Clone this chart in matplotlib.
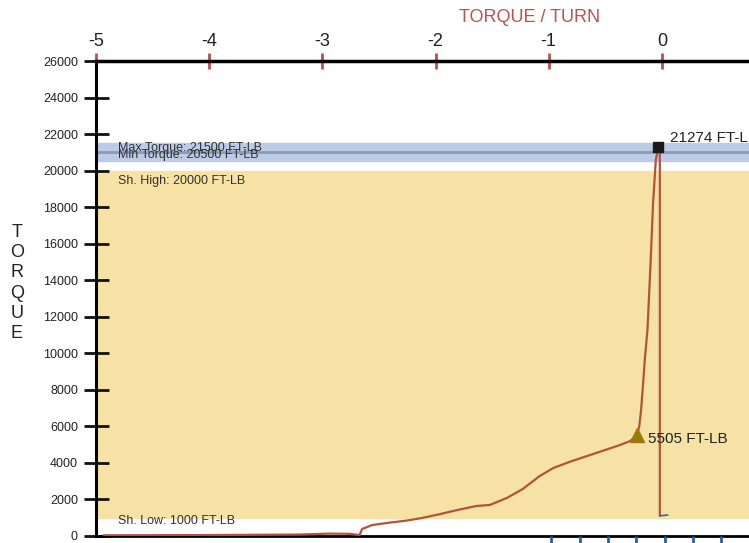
import matplotlib
matplotlib.use("Agg")
import matplotlib.pyplot as plt

plt.rcParams['font.family'] = ['Liberation Sans', 'DejaVu Sans']

# torque vs turn curve
turns = [-4.93, -4.09, -3.20, -2.94, -2.76, -2.67, -2.65, -2.56, -2.41, -2.26,
         -2.12, -1.96, -1.81, -1.64, -1.52, -1.37, -1.23, -1.08, -0.96, -0.81,
         -0.66, -0.52, -0.37, -0.28, -0.22, -0.20, -0.185, -0.171, -0.150, -0.127,
         -0.100, -0.077, -0.053, -0.030, -0.018, -0.018]
torque = [40, 50, 80, 130, 120, 50, 380, 600, 730, 840,
          985, 1200, 1420, 1640, 1700, 2080, 2570, 3280, 3720, 4070,
          4380, 4670, 4980, 5200, 5505, 6000, 6800, 7900, 9700, 11300,
          14900, 18300, 20600, 21274, 21150, 1150]

blue_turns = [-0.018, 0.05]
blue_torque = [1100, 1150]

shoulder_low, shoulder_high = 1000, 20000
min_torque, max_torque = 20500, 21500
peak_turn, peak_val = -0.030, 21274
shoulder_turn, shoulder_val = -0.22, 5505

y_ticks = list(range(0, 26001, 2000))
x_ticks = [-5, -4, -3, -2, -1, 0]
bottom_ticks = [-0.976, -0.726, -0.476, -0.226, 0.024, 0.274, 0.524]

fig = plt.figure(figsize=(7.49, 5.43), dpi=100)
ax = fig.add_axes([96 / 749, 7 / 543, 1 - 96 / 749, 475 / 543])

# bands
ax.axhspan(shoulder_low, shoulder_high, color='#f6e2a4', zorder=0)
ax.axhspan(min_torque, max_torque, color='#bccbe6', zorder=0)
ax.axhline((min_torque + max_torque) / 2, color='#8a9bb5', lw=2, zorder=1)

ax.plot(turns, torque, color='#b5533a', lw=1.6, zorder=3)
ax.plot(blue_turns, blue_torque, color='#2f6db0', lw=1.2, zorder=3)
ax.plot([peak_turn], [peak_val], marker='s', color='#1a1a1a', ms=7, zorder=4)
ax.plot([shoulder_turn], [shoulder_val], marker='^', color='#9a7a0a', ms=10, zorder=4)

ax.text(peak_turn + 0.1, peak_val + 500, f"{peak_val} FT-LB", fontsize=11,
        color='#222222', va='center')
ax.text(shoulder_turn + 0.1, shoulder_val - 200, f"{shoulder_val} FT-LB", fontsize=11,
        color='#222222', va='center')

ax.text(-4.81, 21240, f"Max Torque: {max_torque} FT-LB", fontsize=9, color='#333333', va='center')
ax.text(-4.81, 20850, f"Min Torque: {min_torque} FT-LB", fontsize=9, color='#333333', va='center')
ax.text(-4.81, 19430, f"Sh. High: {shoulder_high} FT-LB", fontsize=9, color='#333333', va='center')
ax.text(-4.81, 820, f"Sh. Low: {shoulder_low} FT-LB", fontsize=9, color='#333333', va='center')

ax.set_xlim(-5, 0.77)
ax.set_ylim(0, 26000)

# secondary bottom axis (labels cut off)
ax2 = ax.twiny()
ax2.set_xlim(ax.get_xlim())
ax2.xaxis.set_ticks_position('bottom')
ax2.set_xticks(bottom_ticks)
ax2.set_xticklabels([])
ax2.tick_params(axis='x', direction='out', length=8, width=2, color='#2a5f9e')
for s in ax2.spines.values():
    s.set_visible(False)

ax.xaxis.tick_top()
ax.xaxis.set_label_position('top')
ax.set_xticks(x_ticks)
ax.set_xticklabels([str(t) for t in x_ticks])
ax.tick_params(axis='x', which='both', direction='inout', length=12, width=2,
               color='#c0504d', labelsize=13, pad=2, labelcolor='#222222')
ax.set_yticks(y_ticks)
ax.tick_params(axis='y', direction='inout', length=18, width=2, color='#111111',
               labelsize=9, pad=4, labelcolor='#222222')

ax.spines['right'].set_visible(False)
ax.spines['top'].set_linewidth(2.5)
ax.spines['left'].set_linewidth(2.2)
ax.spines['bottom'].set_linewidth(2)

fig.text(530 / 749, 1 - 17 / 543, "TORQUE / TURN", fontsize=13, color='#c0504d',
         ha='center', va='center')
fig.text(17 / 749, 1 - 283 / 543, "T\nO\nR\nQ\nU\nE", fontsize=13, color='#222222',
         ha='center', va='center', linespacing=1.25)

fig.savefig("out.png", dpi=100)
